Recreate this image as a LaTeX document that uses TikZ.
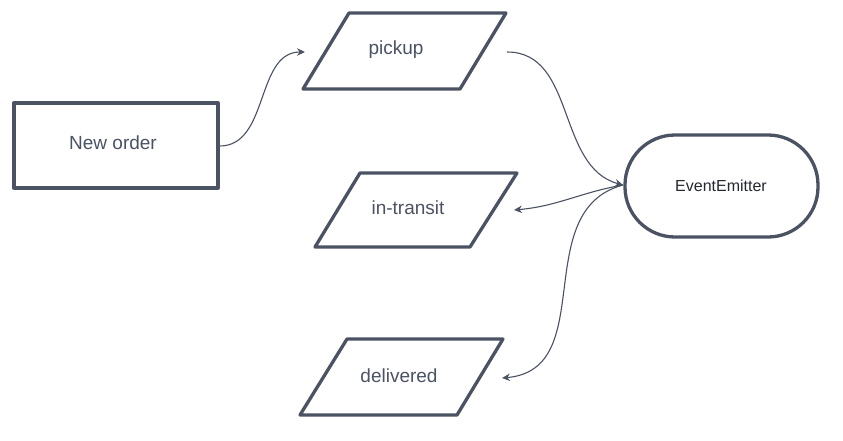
\documentclass[tikz,border=0pt]{standalone}
\usepackage{fontspec}
\setmainfont{Liberation Sans}
\usetikzlibrary{arrows.meta}
\definecolor{ink}{HTML}{4B5262}
\definecolor{txt}{HTML}{4B5262}
\definecolor{dark}{HTML}{252830}
\begin{document}
\begin{tikzpicture}[x=1pt,y=-1pt,
  frame/.style={draw=ink,line width=3.3pt,line join=round},
  lbl/.style={text=txt,font=\fontsize{19}{22}\selectfont,inner sep=0pt},
  conn/.style={draw=ink,line width=1.1pt,-{Stealth[length=8pt,width=7.5pt]}}]
\useasboundingbox[fill=white] (0,0) rectangle (843,440);
% New order
\node[frame,minimum width=204pt,minimum height=85pt,inner sep=0pt] (neworder) at (116,145.5) {};
\node[lbl] (neworderlbl) at (113,143) {New order};
% pickup
\draw[frame] (349,13) -- (506,13) -- (460,89) -- (303,89) -- cycle;
\node[lbl] (pickup) at (396,50) {pickup};
\coordinate (pickupL) at (305,52);
\coordinate (pickupR) at (507,52);
% in-transit
\draw[frame] (360,173) -- (517,173) -- (470,247) -- (315,247) -- cycle;
\node[lbl] (transit) at (408,208) {in-transit};
\coordinate (transitR) at (514,210);
% delivered
\draw[frame] (347,339) -- (503,339) -- (457,415) -- (300,415) -- cycle;
\node[lbl] (delivered) at (399,376) {delivered};
\coordinate (deliveredR) at (502,378);
% EventEmitter
\node[frame,rounded corners=50pt,minimum width=193pt,minimum height=102pt,inner sep=0pt] (ee) at (721.5,186) {};
\node[text=dark,font=\fontsize{16}{19}\selectfont,inner sep=0pt] (eelbl) at (721,186) {EventEmitter};
\coordinate (eeL) at (623,185);
% connectors
\draw[conn] (neworder.east) ++(0,0.5) coordinate (noR) (noR) to[out=0,in=180] (pickupL);
\draw[conn] (pickupR) to[out=0,in=165] (eeL);
\draw[conn] (eeL) to[out=190,in=5] (transitR);
\draw[conn] (eeL) to[out=195,in=5,looseness=1.1] (deliveredR);
\end{tikzpicture}
\end{document}
